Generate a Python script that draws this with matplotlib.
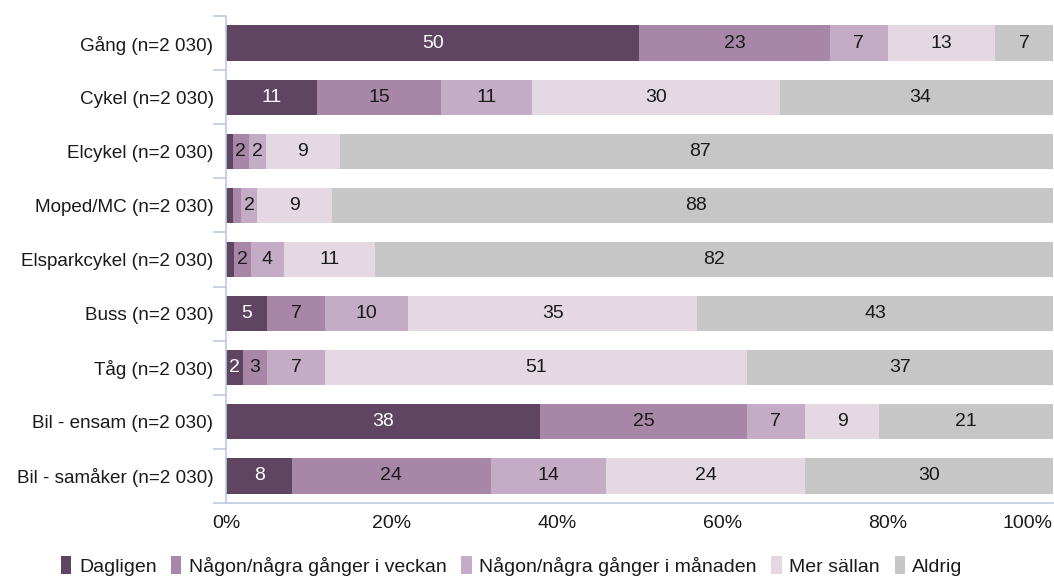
import numpy as np
import matplotlib.pyplot as plt

plt.rcParams['font.family'] = ['Liberation Sans', 'DejaVu Sans']

categories = ["Gång (n=2 030)", "Cykel (n=2 030)", "Elcykel (n=2 030)", "Moped/MC (n=2 030)",
              "Elsparkcykel (n=2 030)", "Buss (n=2 030)", "Tåg (n=2 030)",
              "Bil - ensam (n=2 030)", "Bil - samåker (n=2 030)"]
series = ["Dagligen", "Någon/några gånger i veckan", "Någon/några gånger i månaden",
          "Mer sällan", "Aldrig"]
dagligen = [50, 11, 0.8, 0.8, 1, 5, 2, 38, 8]
veckan = [23, 15, 2, 1, 2, 7, 3, 25, 24]
manaden = [7, 11, 2, 2, 4, 10, 7, 7, 14]
sallan = [13, 30, 9, 9, 11, 35, 51, 9, 24]
aldrig = [7, 34, 87, 88, 82, 43, 37, 21, 30]
# små andelar visas utan etikett
show_min = 1.5

colors = ["#604563", "#a886a8", "#c4abc6", "#e4d8e3", "#c6c6c6"]
text_colors = ["white", "#1a1a1a", "#1a1a1a", "#1a1a1a", "#1a1a1a"]
fs = 14

fig = plt.figure(figsize=(10.54, 5.76), dpi=100)
ax = fig.add_axes([226/1054, 1-503/576, 1-226/1054-0.001, (503-16)/576])

y = np.arange(len(categories))
left = np.zeros(len(categories))
for vals, name, c, tc in zip([dagligen, veckan, manaden, sallan, aldrig], series, colors, text_colors):
    vals = np.array(vals, dtype=float)
    bars = ax.barh(y, vals, left=left, height=0.65, color=c, label=name)
    for b, v in zip(bars, vals):
        if v >= show_min:
            ax.text(b.get_x() + b.get_width()/2, b.get_y() + b.get_height()/2, "%d" % round(v),
                    ha='center', va='center', color=tc, fontsize=fs)
    left += vals

ax.set_xlim(0, 100)
ax.set_ylim(len(categories) - 0.5, -0.5)
ax.set_yticks(y)
ax.set_yticklabels(categories, fontsize=13.6, color="#1a1a1a")
ax.set_yticks(np.arange(-0.5, len(categories)), minor=True)
ax.tick_params(axis='y', which='major', length=0, pad=9)
ax.tick_params(axis='y', which='minor', length=9.5, color="#bccbdf", width=1.2)
ax.set_xticks(np.arange(0, 101, 20))
ax.set_xticklabels(["%d%%" % v for v in range(0, 101, 20)], fontsize=fs, color="#1a1a1a")
ax.tick_params(axis='x', length=0, pad=9)
ax.get_xticklabels()[-1].set_ha('right')
for s in ['top', 'right']:
    ax.spines[s].set_visible(False)
for s in ['left', 'bottom']:
    ax.spines[s].set_color("#bccbdf")
    ax.spines[s].set_linewidth(1.2)

ax.legend(loc='center', bbox_to_anchor=(512/1054, 1-566/576), bbox_transform=fig.transFigure,
          ncol=5, frameon=False, fontsize=fs, handlelength=0.52, handleheight=1.05,
          handletextpad=0.4, columnspacing=0.75, borderpad=0, borderaxespad=0)
for t in ax.get_legend().get_texts():
    t.set_color("#1a1a1a")

fig.savefig("out.png", dpi=100)
